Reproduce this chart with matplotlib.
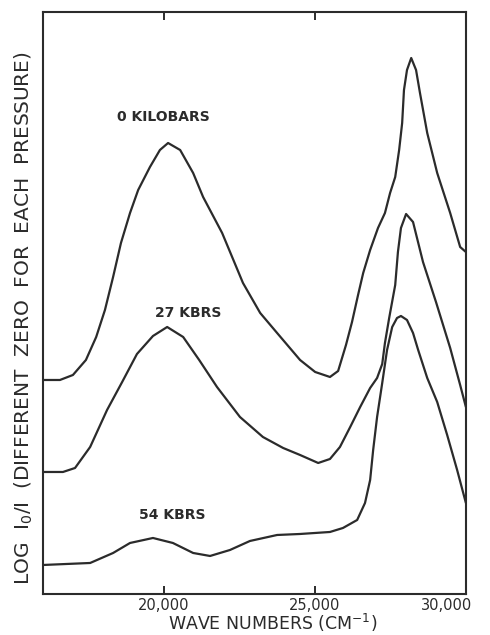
import matplotlib
matplotlib.use('Agg')
import matplotlib.pyplot as plt
import matplotlib.transforms as mtransforms
from matplotlib.ticker import FixedLocator, FuncFormatter

# Absorption spectra at three pressures
# y is log I0/I in arbitrary units, each curve has its own zero
wn_0 = [16000, 16560, 16990, 17420, 17760, 18050, 18320, 18580, 18880, 19150,
        19540, 19870, 20140, 20540, 20970, 21300, 21930, 22620, 23190, 23750,
        24510, 25010, 25500, 25770, 26030, 26230, 26430, 26600, 26830, 27090,
        27320, 27490, 27660, 27790, 27890, 27950, 28050, 28190, 28350, 28480,
        28720, 29050, 29480, 29810, 30000]
abs_0 = [2.14, 2.14, 2.19, 2.34, 2.57, 2.84, 3.17, 3.51, 3.81, 4.04,
         4.27, 4.44, 4.51, 4.44, 4.21, 3.97, 3.61, 3.11, 2.81, 2.61,
         2.34, 2.22, 2.17, 2.23, 2.49, 2.72, 2.99, 3.21, 3.44, 3.66,
         3.81, 4.01, 4.17, 4.44, 4.71, 5.04, 5.24, 5.36, 5.24, 5.01,
         4.61, 4.21, 3.81, 3.47, 3.42]

wn_27 = [16000, 16660, 17060, 17560, 18120, 18620, 19110, 19640, 20110, 20640,
         21170, 21760, 22520, 23280, 23950, 24510, 25110, 25500, 25830, 26170,
         26500, 26830, 27060, 27230, 27320, 27460, 27660, 27750, 27850, 28020,
         28250, 28580, 29010, 29480, 29810, 30000]
abs_27 = [1.22, 1.22, 1.26, 1.47, 1.84, 2.12, 2.40, 2.58, 2.67, 2.57,
          2.34, 2.07, 1.77, 1.57, 1.46, 1.39, 1.31, 1.35, 1.47, 1.67,
          1.87, 2.06, 2.16, 2.30, 2.51, 2.76, 3.09, 3.42, 3.66, 3.80,
          3.72, 3.32, 2.92, 2.46, 2.09, 1.87]

wn_54 = [16000, 17560, 18320, 18880, 19640, 20300, 20970, 21530, 22190, 22850,
         23750, 24510, 25500, 25930, 26400, 26660, 26830, 26930, 27060, 27230,
         27390, 27560, 27720, 27850, 28050, 28250, 28420, 28720, 29050, 29380,
         29710, 30000]
abs_54 = [0.29, 0.31, 0.41, 0.51, 0.56, 0.51, 0.41, 0.38, 0.44, 0.53,
          0.59, 0.60, 0.62, 0.66, 0.74, 0.91, 1.14, 1.44, 1.77, 2.11,
          2.44, 2.67, 2.76, 2.78, 2.74, 2.61, 2.44, 2.16, 1.92, 1.59,
          1.24, 0.91]

labels = ['0 KILOBARS', '27 KBRS', '54 KBRS']
xticks = [20000, 25000, 30000]

ink = '#2b2b2b'

fig = plt.figure(figsize=(4.9, 6.35), dpi=100)
ax = fig.add_axes([0.0878, 0.0646, 0.863, 0.9165])

for wn, a in [(wn_0, abs_0), (wn_27, abs_27), (wn_54, abs_54)]:
    ax.plot(wn, a, color=ink, lw=1.6, solid_joinstyle='round', solid_capstyle='round')

# pressure labels
ax.text(20000, 4.77, labels[0], ha='center', va='center', fontsize=10, fontweight='bold', color=ink)
ax.text(20800, 2.81, labels[1], ha='center', va='center', fontsize=10, fontweight='bold', color=ink)
ax.text(20270, 0.79, labels[2], ha='center', va='center', fontsize=10, fontweight='bold', color=ink)

ax.set_xlim(16000, 30000)
ax.set_ylim(0, 5.82)

ax.xaxis.set_major_locator(FixedLocator(xticks))
ax.xaxis.set_major_formatter(FuncFormatter(lambda v, p: f'{int(v):,}'))
ax.set_yticks([])
ax.tick_params(axis='x', direction='in', top=True, length=6, width=1.4,
               pad=3, labelsize=10.5, colors=ink)

# the last label sits a bit left of the corner, as in the original
fig.canvas.draw()
shift = mtransforms.ScaledTranslation(-14 / 72, 0, fig.dpi_scale_trans)
last = ax.get_xticklabels()[-1]
last.set_transform(last.get_transform() + shift)

for s in ax.spines.values():
    s.set_linewidth(1.5)
    s.set_color(ink)

ax.set_xlabel('WAVE NUMBERS (CM$^{-1}$)', fontsize=12.5, color=ink)
ax.xaxis.set_label_coords(0.544, -0.031)
ax.set_ylabel(r'LOG  $\mathregular{I_0/I}$  (DIFFERENT  ZERO  FOR  EACH  PRESSURE)',
              fontsize=14.5, color=ink)
ax.yaxis.set_label_coords(-0.018, 0.474)

plt.savefig('out.png', dpi=100)
